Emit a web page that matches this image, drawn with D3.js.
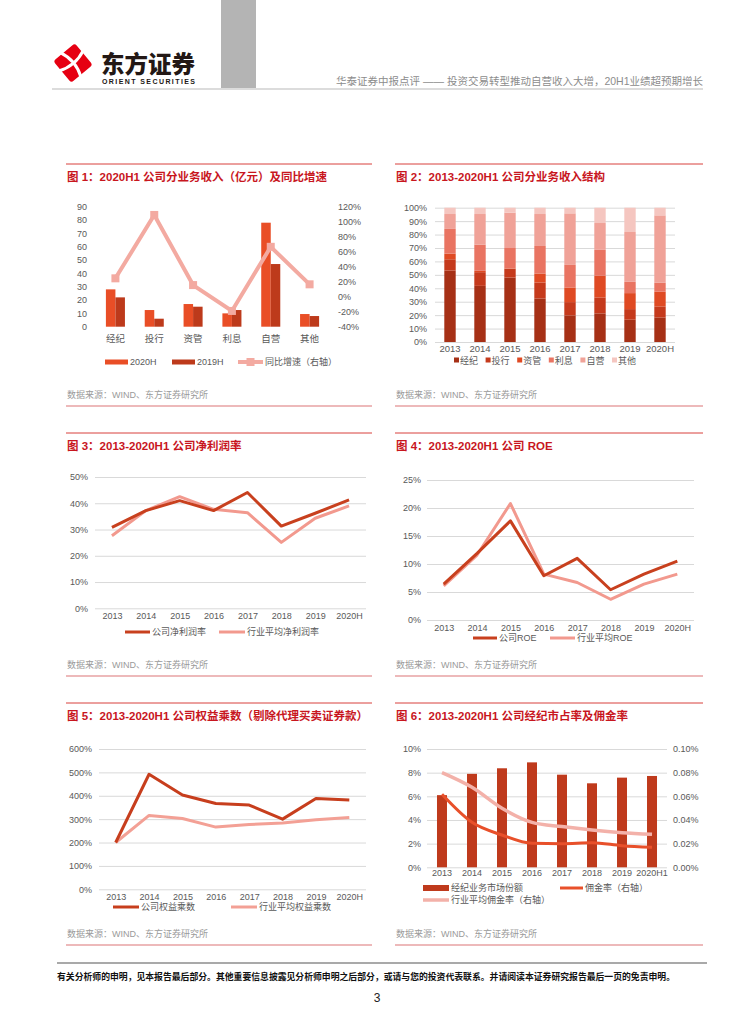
<!DOCTYPE html>
<html>
<head>
<meta charset="utf-8">
<script src="https://cdn.jsdelivr.net/npm/d3@7"></script>
<style>
body { margin: 0; background: #fff; }
svg { font-family: "Liberation Sans", "Noto Sans CJK SC", sans-serif; }
</style>
</head>
<body>
<script>
// ---- data ----
var years = ["2013", "2014", "2015", "2016", "2017", "2018", "2019", "2020H"];
var years6 = ["2013", "2014", "2015", "2016", "2017", "2018", "2019", "2020H1"];

// fig 1
var bizCats = ["经纪", "投行", "资管", "利息", "自营", "其他"];
var rev2020H = [28, 12.5, 17, 10, 78, 9.5];
var rev2019H = [22, 6, 15, 12.5, 47, 8];
var revYoY = [0.245, 1.09, 0.155, -0.19, 0.665, 0.165];
var revTicks = [0, 10, 20, 30, 40, 50, 60, 70, 80, 90];
var yoyTicks = [-0.4, -0.2, 0, 0.2, 0.4, 0.6, 0.8, 1.0, 1.2];

// fig 2 (share of revenue, %)
var mixKeys = ["经纪", "投行", "资管", "利息", "自营", "其他"];
var mixJingji = [53.2, 41.8, 48.0, 32.4, 19.8, 21.3, 16.6, 18.3];
var mixTouhang = [8.4, 10.2, 6.5, 11.9, 9.9, 11.9, 7.9, 8.2];
var mixZiguan = [4.2, 1.0, 0.3, 6.7, 10.9, 16.1, 11.9, 10.9];
var mixLixi = [18.4, 19.5, 15.2, 20.5, 16.8, 19.3, 8.4, 6.7];
var mixZiying = [11.1, 22.8, 26.3, 23.8, 38.4, 20.0, 37.1, 50.2];
var mixQita = [4.7, 4.7, 3.7, 4.7, 4.2, 11.4, 18.1, 5.7];
var mixTicks = [0, 0.1, 0.2, 0.3, 0.4, 0.5, 0.6, 0.7, 0.8, 0.9, 1.0];

// fig 3
var npmCompany = [0.308, 0.372, 0.410, 0.372, 0.441, 0.313, 0.362, 0.413];
var npmIndustry = [0.276, 0.372, 0.425, 0.377, 0.364, 0.251, 0.343, 0.390];
var npmTicks = [0, 0.1, 0.2, 0.3, 0.4, 0.5];

// fig 4
var roeCompany = [0.064, 0.119, 0.177, 0.079, 0.110, 0.054, 0.082, 0.105];
var roeIndustry = [0.061, 0.116, 0.208, 0.082, 0.067, 0.037, 0.064, 0.082];
var roeTicks = [0, 0.05, 0.10, 0.15, 0.20, 0.25];

// fig 5
var emCompany = [2.00, 4.92, 4.03, 3.67, 3.60, 3.00, 3.88, 3.82];
var emIndustry = [2.00, 3.16, 3.03, 2.66, 2.77, 2.84, 2.97, 3.07];
var emTicks = [0, 1, 2, 3, 4, 5, 6];

// fig 6
var mktShare = [0.061, 0.079, 0.0837, 0.0887, 0.0783, 0.071, 0.0758, 0.0772];
var commRate = [0.000617, 0.00038, 0.000273, 0.000203, 0.0002, 0.000208, 0.000183, 0.000169];
var commIndustry = [0.0008, 0.000676, 0.000499, 0.00038, 0.000344, 0.000315, 0.000293, 0.000279];
var shareTicks = [0, 0.02, 0.04, 0.06, 0.08, 0.10];
var rateTicks = [0, 0.0002, 0.0004, 0.0006, 0.0008, 0.001];

// ---- page ----
var svg = d3.select("body").append("svg")
    .attr("width", 755)
    .attr("height", 1024);

var pct0 = function(d) { return Math.round(d * 100) + "%"; };
var pct2 = function(d) { return (d * 100).toFixed(2) + "%"; };
var axisGray = "#595959";

// header
svg.append("rect").attr("x", 221).attr("y", 0).attr("width", 35).attr("height", 89).attr("fill", "#b4b4b4");
svg.append("line").attr("x1", 52).attr("x2", 703).attr("y1", 89).attr("y2", 89)
    .attr("stroke", "#dcdcdc").attr("stroke-width", 2);
svg.append("text").attr("x", 703).attr("y", 85).attr("text-anchor", "end")
    .attr("font-size", 10.5).attr("fill", "#8c8c8c")
    .text("华泰证券中报点评 —— 投资交易转型推动自营收入大增，20H1业绩超预期增长");

var logo = svg.append("g").attr("transform", "translate(73,63) rotate(-40)");
logo.append("rect").attr("x", -14).attr("y", -14).attr("width", 28).attr("height", 28)
    .attr("rx", 3).attr("fill", "#e60012");
logo.append("path").attr("d", "M-16,-3 Q0,4 16,-3 M-3,-16 Q4,0 -3,16")
    .attr("stroke", "#fff").attr("stroke-width", 3).attr("fill", "none");
svg.append("text").attr("x", 101).attr("y", 73).attr("font-size", 23.5).attr("font-weight", 900)
    .attr("font-family", "Noto Sans CJK SC").attr("fill", "#231815").text("东方证券");
svg.append("text").attr("x", 102).attr("y", 84).attr("font-size", 7).attr("font-weight", "bold")
    .attr("fill", "#231815").attr("textLength", 93).attr("lengthAdjust", "spacing")
    .text("ORIENT  SECURITIES");

// footer
svg.append("line").attr("x1", 57).attr("x2", 707).attr("y1", 963).attr("y2", 963)
    .attr("stroke", "#8c8c8c").attr("stroke-width", 1.5);
svg.append("text").attr("x", 57).attr("y", 980).attr("font-size", 9).attr("font-weight", "bold")
    .attr("fill", "#111").attr("textLength", 618).attr("lengthAdjust", "spacingAndGlyphs")
    .text("有关分析师的申明，见本报告最后部分。其他重要信息披露见分析师申明之后部分，或请与您的投资代表联系。并请阅读本证券研究报告最后一页的免责申明。");
svg.append("text").attr("x", 377).attr("y", 1002).attr("text-anchor", "middle")
    .attr("font-size", 12).attr("fill", "#222").text("3");

function panel(x0, x1, top, bottom, title) {
    svg.append("line").attr("x1", x0).attr("x2", x1).attr("y1", top).attr("y2", top)
        .attr("stroke", "#d8403c").attr("stroke-width", 1);
    svg.append("text").attr("x", x0 + 1).attr("y", top + 17)
        .attr("font-size", 11.5).attr("font-weight", "bold").attr("fill", "#c8161e").text(title);
    svg.append("text").attr("x", x0 + 1).attr("y", bottom - 8)
        .attr("font-size", 9).attr("fill", "#9a9a9a").text("数据来源：WIND、东方证券研究所");
    svg.append("line").attr("x1", x0).attr("x2", x1).attr("y1", bottom).attr("y2", bottom)
        .attr("stroke", "#dc7576").attr("stroke-width", 1.2);
}

function styleAxis(g) {
    g.select(".domain").remove();
    g.selectAll(".tick line").attr("stroke", "#d9d9d9").attr("stroke-width", 1);
    g.selectAll(".tick text").attr("fill", axisGray).attr("font-size", 9)
        .attr("font-family", "Liberation Sans, Noto Sans CJK SC, sans-serif");
}

function leftAxis(y, ticks, fmt, gx, labelRight, gridRight) {
    var g = svg.append("g").attr("transform", "translate(" + gx + ",0)")
        .call(d3.axisLeft(y).tickValues(ticks).tickFormat(fmt)
            .tickSizeInner(gridRight ? -(gridRight - gx) : 0).tickSizeOuter(0)
            .tickPadding(gx - labelRight));
    styleAxis(g);
    return g;
}

function xLabels(x, labels, baseline, size) {
    var g = svg.append("g").attr("transform", "translate(0," + baseline + ")")
        .call(d3.axisBottom(x).tickSize(0).tickPadding(0));
    g.select(".domain").remove();
    g.selectAll(".tick text").attr("fill", axisGray).attr("font-size", size || 9)
        .attr("dy", 0).attr("font-family", "Liberation Sans, Noto Sans CJK SC, sans-serif");
}

function legendLine(x, y, len, color, width, label) {
    svg.append("line").attr("x1", x).attr("x2", x + len).attr("y1", y).attr("y2", y)
        .attr("stroke", color).attr("stroke-width", width);
    svg.append("text").attr("x", x + len + 2).attr("y", y + 3.2)
        .attr("font-size", 9).attr("fill", axisGray).text(label);
}

function legendRect(x, y, w, h, color, label) {
    svg.append("rect").attr("x", x).attr("y", y - h / 2).attr("width", w).attr("height", h).attr("fill", color);
    svg.append("text").attr("x", x + w + 2).attr("y", y + 3.2)
        .attr("font-size", 9).attr("fill", axisGray).text(label);
}

// ---- fig 1 ----
panel(66, 372, 164, 406, "图 1：2020H1 公司分业务收入（亿元）及同比增速");
(function() {
    var x0 = d3.scaleBand().domain(bizCats).range([96, 329]);
    var x1 = d3.scaleBand().domain(["2020H", "2019H"]).range([0, x0.bandwidth()]).paddingOuter(1.04);
    var y = d3.scaleLinear().domain([0, 90]).range([326.7, 206.7]);
    var y2 = d3.scaleLinear().domain([-0.4, 1.2]).range([326.7, 206.7]);

    leftAxis(y, revTicks, function(d) { return d; }, 96, 87, null);
    var gr = svg.append("g").attr("transform", "translate(329,0)")
        .call(d3.axisRight(y2).tickValues(yoyTicks).tickFormat(pct0).tickSize(0).tickPadding(9));
    styleAxis(gr);

    var series = [["2020H", rev2020H, "#e94e26"], ["2019H", rev2019H, "#bd3a1b"]];
    series.forEach(function(s) {
        svg.append("g").selectAll("rect").data(s[1]).join("rect")
            .attr("x", function(d, i) { return x0(bizCats[i]) + x1(s[0]); })
            .attr("width", x1.bandwidth())
            .attr("y", function(d) { return y(d); })
            .attr("height", function(d) { return y(0) - y(d); })
            .attr("fill", s[2]);
    });

    var cx = function(d, i) { return x0(bizCats[i]) + x0.bandwidth() / 2; };
    svg.append("path").datum(revYoY)
        .attr("d", d3.line().x(cx).y(function(d) { return y2(d); }))
        .attr("fill", "none").attr("stroke", "#f3aaa1").attr("stroke-width", 4);
    svg.append("g").selectAll("rect").data(revYoY).join("rect")
        .attr("x", function(d, i) { return cx(d, i) - 4; })
        .attr("y", function(d) { return y2(d) - 4; })
        .attr("width", 8).attr("height", 8).attr("fill", "#f3aaa1");

    xLabels(x0, bizCats, 341.5, 9.5);

    legendRect(105, 362, 23, 5, "#e94e26", "2020H");
    legendRect(172, 362, 23, 5, "#bd3a1b", "2019H");
    legendLine(238, 362, 25, "#f3aaa1", 4, "同比增速（右轴）");
    svg.append("rect").attr("x", 246.5).attr("y", 358).attr("width", 8).attr("height", 8).attr("fill", "#f3aaa1");
})();

// ---- fig 2 ----
panel(395, 703, 164, 406, "图 2：2013-2020H1 公司分业务收入结构");
(function() {
    var mixVals = [mixJingji, mixTouhang, mixZiguan, mixLixi, mixZiying, mixQita];
    var mixColors = ["#a63016", "#c53a1c", "#df4a23", "#e97462", "#f0a298", "#f5c6c0"];
    var rows = years.map(function(yr, i) {
        var r = { year: yr };
        mixKeys.forEach(function(k, j) { r[k] = mixVals[j][i]; });
        return r;
    });
    var stack = d3.stack().keys(mixKeys).offset(d3.stackOffsetExpand)(rows);

    var x = d3.scaleBand().domain(years).range([435, 675]).paddingInner(0.62).paddingOuter(0.31);
    var y = d3.scaleLinear().domain([0, 1]).range([342, 207.7]);

    leftAxis(y, mixTicks, pct0, 435, 427, 675);

    svg.append("g").selectAll("g").data(stack).join("g")
        .attr("fill", function(d, i) { return mixColors[i]; })
        .selectAll("rect").data(function(d) { return d; }).join("rect")
        .attr("x", function(d) { return x(d.data.year); })
        .attr("width", x.bandwidth())
        .attr("y", function(d) { return y(d[1]); })
        .attr("height", function(d) { return y(d[0]) - y(d[1]); });

    xLabels(x, years, 352, 9.5);

    mixKeys.forEach(function(k, i) {
        var lx = 454 + i * 31.6;
        svg.append("rect").attr("x", lx).attr("y", 357.5).attr("width", 5).attr("height", 5).attr("fill", mixColors[i]);
        svg.append("text").attr("x", lx + 6).attr("y", 363.5).attr("font-size", 9).attr("fill", axisGray).text(k);
    });
})();

// ---- line charts ----
function lineChart(c) {
    var x = d3.scalePoint().domain(years).range([c.px0, c.px1]).padding(0.5);
    var y = d3.scaleLinear().domain(c.domain).range([c.y0, c.y1]);
    leftAxis(y, c.ticks, c.fmt, c.px0, c.labelRight, c.px1);
    c.series.forEach(function(s) {
        svg.append("path").datum(s.vals)
            .attr("d", d3.line().x(function(d, i) { return x(years[i]); }).y(function(d) { return y(d); }))
            .attr("fill", "none").attr("stroke", s.color).attr("stroke-width", 3)
            .attr("stroke-linejoin", "round");
    });
    xLabels(x, years, c.xBase, 9);
    c.series.forEach(function(s) {
        legendLine(s.lx, c.legendY, s.len, s.color, 3, s.label);
    });
}

panel(66, 372, 433, 676, "图 3：2013-2020H1 公司净利润率");
lineChart({
    px0: 95, px1: 366, y0: 608.3, y1: 477, domain: [0, 0.5], ticks: npmTicks, fmt: pct0,
    labelRight: 88, xBase: 618.5, legendY: 632,
    series: [
        { vals: npmIndustry, color: "#f2998e", label: "行业平均净利润率", lx: 219, len: 26 },
        { vals: npmCompany, color: "#c8401e", label: "公司净利润率", lx: 125, len: 25 }
    ]
});

panel(395, 703, 433, 676, "图 4：2013-2020H1 公司 ROE");
lineChart({
    px0: 427, px1: 694, y0: 620, y1: 480, domain: [0, 0.25], ticks: roeTicks, fmt: pct0,
    labelRight: 421, xBase: 630.5, legendY: 638,
    series: [
        { vals: roeIndustry, color: "#f2998e", label: "行业平均ROE", lx: 550, len: 25 },
        { vals: roeCompany, color: "#c8401e", label: "公司ROE", lx: 473, len: 24 }
    ]
});

panel(66, 372, 703, 945, "图 5：2013-2020H1 公司权益乘数（剔除代理买卖证券款）");
lineChart({
    px0: 99, px1: 366, y0: 889.3, y1: 749, domain: [0, 6], ticks: emTicks, fmt: pct0,
    labelRight: 92, xBase: 900, legendY: 907,
    series: [
        { vals: emIndustry, color: "#f3a095", label: "行业平均权益乘数", lx: 231, len: 26 },
        { vals: emCompany, color: "#c73e1d", label: "公司权益乘数", lx: 113, len: 26 }
    ]
});

// ---- fig 6 ----
panel(395, 703, 703, 945, "图 6：2013-2020H1 公司经纪市占率及佣金率");
(function() {
    var x = d3.scaleBand().domain(years6).range([427, 667]).paddingInner(0.667).paddingOuter(0.333);
    var y = d3.scaleLinear().domain([0, 0.10]).range([867.3, 749]);
    var y2 = d3.scaleLinear().domain([0, 0.001]).range([867.3, 749]);

    leftAxis(y, shareTicks, pct0, 427, 421, 667);
    var gr = svg.append("g").attr("transform", "translate(667,0)")
        .call(d3.axisRight(y2).tickValues(rateTicks).tickFormat(pct2).tickSize(0).tickPadding(6));
    styleAxis(gr);

    svg.append("g").selectAll("rect").data(mktShare).join("rect")
        .attr("x", function(d, i) { return x(years6[i]); })
        .attr("width", x.bandwidth())
        .attr("y", function(d) { return y(d); })
        .attr("height", function(d) { return y(0) - y(d); })
        .attr("fill", "#bf3a1c");

    var cx = function(d, i) { return x(years6[i]) + x.bandwidth() / 2; };
    svg.append("path").datum(commIndustry)
        .attr("d", d3.line().x(cx).y(function(d) { return y2(d); }).curve(d3.curveMonotoneX))
        .attr("fill", "none").attr("stroke", "#f3b1a9").attr("stroke-width", 3.5);
    svg.append("path").datum(commRate)
        .attr("d", d3.line().x(cx).y(function(d) { return y2(d); }).curve(d3.curveMonotoneX))
        .attr("fill", "none").attr("stroke", "#e8502a").attr("stroke-width", 3);

    xLabels(x, years6, 876, 9);

    legendRect(423, 888, 26, 6, "#bf3a1c", "经纪业务市场份额");
    legendLine(560, 888, 23, "#e8502a", 3, "佣金率（右轴）");
    legendLine(423, 900, 26, "#f3b1a9", 3.5, "行业平均佣金率（右轴）");
})();
</script>
</body>
</html>
